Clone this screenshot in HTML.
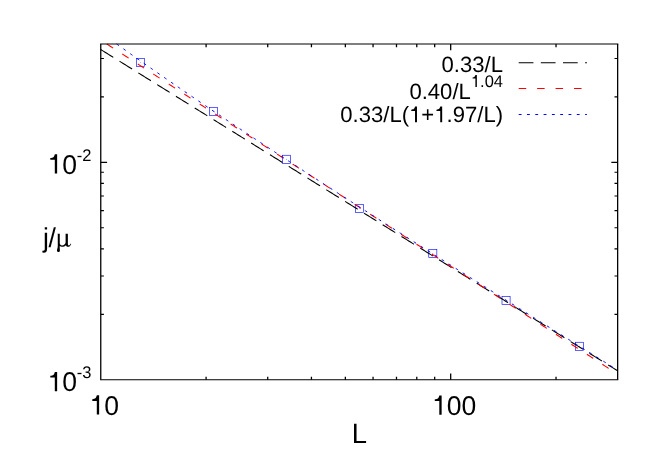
<!DOCTYPE html>
<html><head><meta charset="utf-8"><title>plot</title>
<style>
html,body{margin:0;padding:0;background:#fff;}
body{width:664px;height:465px;overflow:hidden;position:relative;font-family:"Liberation Sans",sans-serif;}
</style></head><body>
<svg width="664" height="465" viewBox="0 0 664 465" style="position:absolute;left:0;top:0;will-change:transform">
<rect x="0" y="0" width="664" height="465" fill="#fff"/>
<rect x="136.45" y="58.35" width="8.1" height="8.1" fill="none" stroke="#00f" stroke-width="0.62"/>
<circle cx="140.50" cy="62.40" r="0.45" fill="#00f" opacity="0.7"/>
<rect x="209.45" y="107.30" width="8.1" height="8.1" fill="none" stroke="#00f" stroke-width="0.62"/>
<circle cx="213.50" cy="111.35" r="0.45" fill="#00f" opacity="0.7"/>
<rect x="282.55" y="155.25" width="8.1" height="8.1" fill="none" stroke="#00f" stroke-width="0.62"/>
<circle cx="286.60" cy="159.30" r="0.45" fill="#00f" opacity="0.7"/>
<rect x="355.55" y="204.30" width="8.1" height="8.1" fill="none" stroke="#00f" stroke-width="0.62"/>
<circle cx="359.60" cy="208.35" r="0.45" fill="#00f" opacity="0.7"/>
<rect x="428.75" y="249.40" width="8.1" height="8.1" fill="none" stroke="#00f" stroke-width="0.62"/>
<circle cx="432.80" cy="253.45" r="0.45" fill="#00f" opacity="0.7"/>
<rect x="502.00" y="296.45" width="8.1" height="8.1" fill="none" stroke="#00f" stroke-width="0.62"/>
<circle cx="506.05" cy="300.50" r="0.45" fill="#00f" opacity="0.7"/>
<rect x="575.45" y="342.25" width="8.1" height="8.1" fill="none" stroke="#00f" stroke-width="0.62"/>
<circle cx="579.50" cy="346.30" r="0.45" fill="#00f" opacity="0.7"/>
<path d="M100.76,49.56 L102.05,50.36 L103.34,51.16 L104.64,51.97 L105.93,52.77 L107.22,53.57 L108.51,54.38 L109.81,55.18 L111.10,55.98 L112.39,56.79 L113.68,57.59 L114.97,58.39 L116.27,59.19 L117.56,60.00 L118.85,60.80 L120.14,61.60 L121.44,62.41 L122.73,63.21 L124.02,64.01 L125.31,64.82 L126.60,65.62 L127.90,66.42 L129.19,67.23 L130.48,68.03 L131.77,68.83 L133.07,69.63 L134.36,70.44 L135.65,71.24 L136.94,72.04 L138.23,72.85 L139.53,73.65 L140.82,74.45 L142.11,75.26 L143.40,76.06 L144.70,76.86 L145.99,77.67 L147.28,78.47 L148.57,79.27 L149.86,80.08 L151.16,80.88 L152.45,81.68 L153.74,82.48 L155.03,83.29 L156.33,84.09 L157.62,84.89 L158.91,85.70 L160.20,86.50 L161.49,87.30 L162.79,88.11 L164.08,88.91 L165.37,89.71 L166.66,90.52 L167.96,91.32 L169.25,92.12 L170.54,92.92 L171.83,93.73 L173.12,94.53 L174.42,95.33 L175.71,96.14 L177.00,96.94 L178.29,97.74 L179.59,98.55 L180.88,99.35 L182.17,100.15 L183.46,100.96 L184.75,101.76 L186.05,102.56 L187.34,103.37 L188.63,104.17 L189.92,104.97 L191.22,105.77 L192.51,106.58 L193.80,107.38 L195.09,108.18 L196.38,108.99 L197.68,109.79 L198.97,110.59 L200.26,111.40 L201.55,112.20 L202.85,113.00 L204.14,113.81 L205.43,114.61 L206.72,115.41 L208.01,116.21 L209.31,117.02 L210.60,117.82 L211.89,118.62 L213.18,119.43 L214.48,120.23 L215.77,121.03 L217.06,121.84 L218.35,122.64 L219.64,123.44 L220.94,124.25 L222.23,125.05 L223.52,125.85 L224.81,126.66 L226.11,127.46 L227.40,128.26 L228.69,129.06 L229.98,129.87 L231.27,130.67 L232.57,131.47 L233.86,132.28 L235.15,133.08 L236.44,133.88 L237.74,134.69 L239.03,135.49 L240.32,136.29 L241.61,137.10 L242.90,137.90 L244.20,138.70 L245.49,139.50 L246.78,140.31 L248.07,141.11 L249.37,141.91 L250.66,142.72 L251.95,143.52 L253.24,144.32 L254.53,145.13 L255.83,145.93 L257.12,146.73 L258.41,147.54 L259.70,148.34 L261.00,149.14 L262.29,149.95 L263.58,150.75 L264.87,151.55 L266.16,152.35 L267.46,153.16 L268.75,153.96 L270.04,154.76 L271.33,155.57 L272.63,156.37 L273.92,157.17 L275.21,157.98 L276.50,158.78 L277.79,159.58 L279.09,160.39 L280.38,161.19 L281.67,161.99 L282.96,162.79 L284.26,163.60 L285.55,164.40 L286.84,165.20 L288.13,166.01 L289.42,166.81 L290.72,167.61 L292.01,168.42 L293.30,169.22 L294.59,170.02 L295.89,170.83 L297.18,171.63 L298.47,172.43 L299.76,173.24 L301.05,174.04 L302.35,174.84 L303.64,175.64 L304.93,176.45 L306.22,177.25 L307.52,178.05 L308.81,178.86 L310.10,179.66 L311.39,180.46 L312.68,181.27 L313.98,182.07 L315.27,182.87 L316.56,183.68 L317.85,184.48 L319.15,185.28 L320.44,186.08 L321.73,186.89 L323.02,187.69 L324.31,188.49 L325.61,189.30 L326.90,190.10 L328.19,190.90 L329.48,191.71 L330.78,192.51 L332.07,193.31 L333.36,194.12 L334.65,194.92 L335.94,195.72 L337.24,196.53 L338.53,197.33 L339.82,198.13 L341.11,198.93 L342.41,199.74 L343.70,200.54 L344.99,201.34 L346.28,202.15 L347.57,202.95 L348.87,203.75 L350.16,204.56 L351.45,205.36 L352.74,206.16 L354.04,206.97 L355.33,207.77 L356.62,208.57 L357.91,209.37 L359.20,210.18 L360.50,210.98 L361.79,211.78 L363.08,212.59 L364.37,213.39 L365.67,214.19 L366.96,215.00 L368.25,215.80 L369.54,216.60 L370.84,217.41 L372.13,218.21 L373.42,219.01 L374.71,219.81 L376.00,220.62 L377.30,221.42 L378.59,222.22 L379.88,223.03 L381.17,223.83 L382.47,224.63 L383.76,225.44 L385.05,226.24 L386.34,227.04 L387.63,227.85 L388.93,228.65 L390.22,229.45 L391.51,230.26 L392.80,231.06 L394.10,231.86 L395.39,232.66 L396.68,233.47 L397.97,234.27 L399.26,235.07 L400.56,235.88 L401.85,236.68 L403.14,237.48 L404.43,238.29 L405.73,239.09 L407.02,239.89 L408.31,240.70 L409.60,241.50 L410.89,242.30 L412.19,243.10 L413.48,243.91 L414.77,244.71 L416.06,245.51 L417.36,246.32 L418.65,247.12 L419.94,247.92 L421.23,248.73 L422.52,249.53 L423.82,250.33 L425.11,251.14 L426.40,251.94 L427.69,252.74 L428.99,253.55 L430.28,254.35 L431.57,255.15 L432.86,255.95 L434.15,256.76 L435.45,257.56 L436.74,258.36 L438.03,259.17 L439.32,259.97 L440.62,260.77 L441.91,261.58 L443.20,262.38 L444.49,263.18 L445.78,263.99 L447.08,264.79 L448.37,265.59 L449.66,266.39 L450.95,267.20 L452.25,268.00 L453.54,268.80 L454.83,269.61 L456.12,270.41 L457.41,271.21 L458.71,272.02 L460.00,272.82 L461.29,273.62 L462.58,274.43 L463.88,275.23 L465.17,276.03 L466.46,276.84 L467.75,277.64 L469.04,278.44 L470.34,279.24 L471.63,280.05 L472.92,280.85 L474.21,281.65 L475.51,282.46 L476.80,283.26 L478.09,284.06 L479.38,284.87 L480.67,285.67 L481.97,286.47 L483.26,287.28 L484.55,288.08 L485.84,288.88 L487.14,289.68 L488.43,290.49 L489.72,291.29 L491.01,292.09 L492.30,292.90 L493.60,293.70 L494.89,294.50 L496.18,295.31 L497.47,296.11 L498.77,296.91 L500.06,297.72 L501.35,298.52 L502.64,299.32 L503.93,300.13 L505.23,300.93 L506.52,301.73 L507.81,302.53 L509.10,303.34 L510.40,304.14 L511.69,304.94 L512.98,305.75 L514.27,306.55 L515.56,307.35 L516.86,308.16 L518.15,308.96 L519.44,309.76 L520.73,310.57 L522.03,311.37 L523.32,312.17 L524.61,312.97 L525.90,313.78 L527.19,314.58 L528.49,315.38 L529.78,316.19 L531.07,316.99 L532.36,317.79 L533.66,318.60 L534.95,319.40 L536.24,320.20 L537.53,321.01 L538.82,321.81 L540.12,322.61 L541.41,323.42 L542.70,324.22 L543.99,325.02 L545.29,325.82 L546.58,326.63 L547.87,327.43 L549.16,328.23 L550.45,329.04 L551.75,329.84 L553.04,330.64 L554.33,331.45 L555.62,332.25 L556.92,333.05 L558.21,333.86 L559.50,334.66 L560.79,335.46 L562.08,336.26 L563.38,337.07 L564.67,337.87 L565.96,338.67 L567.25,339.48 L568.55,340.28 L569.84,341.08 L571.13,341.89 L572.42,342.69 L573.71,343.49 L575.01,344.30 L576.30,345.10 L577.59,345.90 L578.88,346.70 L580.18,347.51 L581.47,348.31 L582.76,349.11 L584.05,349.92 L585.34,350.72 L586.64,351.52 L587.93,352.33 L589.22,353.13 L590.51,353.93 L591.81,354.74 L593.10,355.54 L594.39,356.34 L595.68,357.15 L596.97,357.95 L598.27,358.75 L599.56,359.55 L600.85,360.36 L602.14,361.16 L603.44,361.96 L604.73,362.77 L606.02,363.57 L607.31,364.37 L608.60,365.18 L609.90,365.98 L611.19,366.78 L612.48,367.59 L613.77,368.39 L615.07,369.19 L616.36,369.99 L617.65,370.80" fill="none" stroke="#000" stroke-width="1.08" stroke-dasharray="14.75 7.38"/>
<path d="M106.81,44.00 L107.22,44.26 L108.51,45.10 L109.81,45.93 L111.10,46.77 L112.39,47.60 L113.68,48.44 L114.97,49.27 L116.27,50.11 L117.56,50.95 L118.85,51.78 L120.14,52.62 L121.44,53.45 L122.73,54.29 L124.02,55.12 L125.31,55.96 L126.60,56.79 L127.90,57.63 L129.19,58.46 L130.48,59.30 L131.77,60.13 L133.07,60.97 L134.36,61.80 L135.65,62.64 L136.94,63.47 L138.23,64.31 L139.53,65.14 L140.82,65.98 L142.11,66.81 L143.40,67.65 L144.70,68.48 L145.99,69.32 L147.28,70.16 L148.57,70.99 L149.86,71.83 L151.16,72.66 L152.45,73.50 L153.74,74.33 L155.03,75.17 L156.33,76.00 L157.62,76.84 L158.91,77.67 L160.20,78.51 L161.49,79.34 L162.79,80.18 L164.08,81.01 L165.37,81.85 L166.66,82.68 L167.96,83.52 L169.25,84.35 L170.54,85.19 L171.83,86.02 L173.12,86.86 L174.42,87.70 L175.71,88.53 L177.00,89.37 L178.29,90.20 L179.59,91.04 L180.88,91.87 L182.17,92.71 L183.46,93.54 L184.75,94.38 L186.05,95.21 L187.34,96.05 L188.63,96.88 L189.92,97.72 L191.22,98.55 L192.51,99.39 L193.80,100.22 L195.09,101.06 L196.38,101.89 L197.68,102.73 L198.97,103.56 L200.26,104.40 L201.55,105.23 L202.85,106.07 L204.14,106.91 L205.43,107.74 L206.72,108.58 L208.01,109.41 L209.31,110.25 L210.60,111.08 L211.89,111.92 L213.18,112.75 L214.48,113.59 L215.77,114.42 L217.06,115.26 L218.35,116.09 L219.64,116.93 L220.94,117.76 L222.23,118.60 L223.52,119.43 L224.81,120.27 L226.11,121.10 L227.40,121.94 L228.69,122.77 L229.98,123.61 L231.27,124.44 L232.57,125.28 L233.86,126.12 L235.15,126.95 L236.44,127.79 L237.74,128.62 L239.03,129.46 L240.32,130.29 L241.61,131.13 L242.90,131.96 L244.20,132.80 L245.49,133.63 L246.78,134.47 L248.07,135.30 L249.37,136.14 L250.66,136.97 L251.95,137.81 L253.24,138.64 L254.53,139.48 L255.83,140.31 L257.12,141.15 L258.41,141.98 L259.70,142.82 L261.00,143.66 L262.29,144.49 L263.58,145.33 L264.87,146.16 L266.16,147.00 L267.46,147.83 L268.75,148.67 L270.04,149.50 L271.33,150.34 L272.63,151.17 L273.92,152.01 L275.21,152.84 L276.50,153.68 L277.79,154.51 L279.09,155.35 L280.38,156.18 L281.67,157.02 L282.96,157.85 L284.26,158.69 L285.55,159.52 L286.84,160.36 L288.13,161.19 L289.42,162.03 L290.72,162.87 L292.01,163.70 L293.30,164.54 L294.59,165.37 L295.89,166.21 L297.18,167.04 L298.47,167.88 L299.76,168.71 L301.05,169.55 L302.35,170.38 L303.64,171.22 L304.93,172.05 L306.22,172.89 L307.52,173.72 L308.81,174.56 L310.10,175.39 L311.39,176.23 L312.68,177.06 L313.98,177.90 L315.27,178.73 L316.56,179.57 L317.85,180.41 L319.15,181.24 L320.44,182.08 L321.73,182.91 L323.02,183.75 L324.31,184.58 L325.61,185.42 L326.90,186.25 L328.19,187.09 L329.48,187.92 L330.78,188.76 L332.07,189.59 L333.36,190.43 L334.65,191.26 L335.94,192.10 L337.24,192.93 L338.53,193.77 L339.82,194.60 L341.11,195.44 L342.41,196.27 L343.70,197.11 L344.99,197.94 L346.28,198.78 L347.57,199.62 L348.87,200.45 L350.16,201.29 L351.45,202.12 L352.74,202.96 L354.04,203.79 L355.33,204.63 L356.62,205.46 L357.91,206.30 L359.20,207.13 L360.50,207.97 L361.79,208.80 L363.08,209.64 L364.37,210.47 L365.67,211.31 L366.96,212.14 L368.25,212.98 L369.54,213.81 L370.84,214.65 L372.13,215.48 L373.42,216.32 L374.71,217.15 L376.00,217.99 L377.30,218.83 L378.59,219.66 L379.88,220.50 L381.17,221.33 L382.47,222.17 L383.76,223.00 L385.05,223.84 L386.34,224.67 L387.63,225.51 L388.93,226.34 L390.22,227.18 L391.51,228.01 L392.80,228.85 L394.10,229.68 L395.39,230.52 L396.68,231.35 L397.97,232.19 L399.26,233.02 L400.56,233.86 L401.85,234.69 L403.14,235.53 L404.43,236.37 L405.73,237.20 L407.02,238.04 L408.31,238.87 L409.60,239.71 L410.89,240.54 L412.19,241.38 L413.48,242.21 L414.77,243.05 L416.06,243.88 L417.36,244.72 L418.65,245.55 L419.94,246.39 L421.23,247.22 L422.52,248.06 L423.82,248.89 L425.11,249.73 L426.40,250.56 L427.69,251.40 L428.99,252.23 L430.28,253.07 L431.57,253.90 L432.86,254.74 L434.15,255.58 L435.45,256.41 L436.74,257.25 L438.03,258.08 L439.32,258.92 L440.62,259.75 L441.91,260.59 L443.20,261.42 L444.49,262.26 L445.78,263.09 L447.08,263.93 L448.37,264.76 L449.66,265.60 L450.95,266.43 L452.25,267.27 L453.54,268.10 L454.83,268.94 L456.12,269.77 L457.41,270.61 L458.71,271.44 L460.00,272.28 L461.29,273.12 L462.58,273.95 L463.88,274.79 L465.17,275.62 L466.46,276.46 L467.75,277.29 L469.04,278.13 L470.34,278.96 L471.63,279.80 L472.92,280.63 L474.21,281.47 L475.51,282.30 L476.80,283.14 L478.09,283.97 L479.38,284.81 L480.67,285.64 L481.97,286.48 L483.26,287.31 L484.55,288.15 L485.84,288.98 L487.14,289.82 L488.43,290.65 L489.72,291.49 L491.01,292.33 L492.30,293.16 L493.60,294.00 L494.89,294.83 L496.18,295.67 L497.47,296.50 L498.77,297.34 L500.06,298.17 L501.35,299.01 L502.64,299.84 L503.93,300.68 L505.23,301.51 L506.52,302.35 L507.81,303.18 L509.10,304.02 L510.40,304.85 L511.69,305.69 L512.98,306.52 L514.27,307.36 L515.56,308.19 L516.86,309.03 L518.15,309.86 L519.44,310.70 L520.73,311.54 L522.03,312.37 L523.32,313.21 L524.61,314.04 L525.90,314.88 L527.19,315.71 L528.49,316.55 L529.78,317.38 L531.07,318.22 L532.36,319.05 L533.66,319.89 L534.95,320.72 L536.24,321.56 L537.53,322.39 L538.82,323.23 L540.12,324.06 L541.41,324.90 L542.70,325.73 L543.99,326.57 L545.29,327.40 L546.58,328.24 L547.87,329.08 L549.16,329.91 L550.45,330.75 L551.75,331.58 L553.04,332.42 L554.33,333.25 L555.62,334.09 L556.92,334.92 L558.21,335.76 L559.50,336.59 L560.79,337.43 L562.08,338.26 L563.38,339.10 L564.67,339.93 L565.96,340.77 L567.25,341.60 L568.55,342.44 L569.84,343.27 L571.13,344.11 L572.42,344.94 L573.71,345.78 L575.01,346.61 L576.30,347.45 L577.59,348.29 L578.88,349.12 L580.18,349.96 L581.47,350.79 L582.76,351.63 L584.05,352.46 L585.34,353.30 L586.64,354.13 L587.93,354.97 L589.22,355.80 L590.51,356.64 L591.81,357.47 L593.10,358.31 L594.39,359.14 L595.68,359.98 L596.97,360.81 L598.27,361.65 L599.56,362.48 L600.85,363.32 L602.14,364.15 L603.44,364.99 L604.73,365.83 L606.02,366.66 L607.31,367.50 L608.60,368.33 L609.90,369.17 L611.19,370.00 L612.48,370.84 L613.77,371.67 L615.07,372.51 L616.36,373.34 L617.65,374.18" fill="none" stroke="#f00" stroke-width="1.08" stroke-dasharray="7.5 10.94"/>
<path d="M116.64,44.00 L117.56,44.65 L118.85,45.58 L120.14,46.50 L121.44,47.42 L122.73,48.34 L124.02,49.26 L125.31,50.18 L126.60,51.10 L127.90,52.02 L129.19,52.93 L130.48,53.85 L131.77,54.76 L133.07,55.68 L134.36,56.59 L135.65,57.50 L136.94,58.41 L138.23,59.32 L139.53,60.23 L140.82,61.14 L142.11,62.05 L143.40,62.96 L144.70,63.86 L145.99,64.77 L147.28,65.68 L148.57,66.58 L149.86,67.48 L151.16,68.39 L152.45,69.29 L153.74,70.19 L155.03,71.09 L156.33,71.99 L157.62,72.89 L158.91,73.79 L160.20,74.69 L161.49,75.58 L162.79,76.48 L164.08,77.38 L165.37,78.27 L166.66,79.17 L167.96,80.06 L169.25,80.95 L170.54,81.85 L171.83,82.74 L173.12,83.63 L174.42,84.52 L175.71,85.41 L177.00,86.30 L178.29,87.19 L179.59,88.07 L180.88,88.96 L182.17,89.85 L183.46,90.73 L184.75,91.62 L186.05,92.50 L187.34,93.39 L188.63,94.27 L189.92,95.15 L191.22,96.03 L192.51,96.92 L193.80,97.80 L195.09,98.68 L196.38,99.56 L197.68,100.44 L198.97,101.31 L200.26,102.19 L201.55,103.07 L202.85,103.95 L204.14,104.82 L205.43,105.70 L206.72,106.57 L208.01,107.45 L209.31,108.32 L210.60,109.20 L211.89,110.07 L213.18,110.94 L214.48,111.81 L215.77,112.68 L217.06,113.55 L218.35,114.42 L219.64,115.29 L220.94,116.16 L222.23,117.03 L223.52,117.90 L224.81,118.77 L226.11,119.64 L227.40,120.50 L228.69,121.37 L229.98,122.23 L231.27,123.10 L232.57,123.96 L233.86,124.83 L235.15,125.69 L236.44,126.56 L237.74,127.42 L239.03,128.28 L240.32,129.14 L241.61,130.00 L242.90,130.86 L244.20,131.73 L245.49,132.59 L246.78,133.45 L248.07,134.30 L249.37,135.16 L250.66,136.02 L251.95,136.88 L253.24,137.74 L254.53,138.59 L255.83,139.45 L257.12,140.31 L258.41,141.16 L259.70,142.02 L261.00,142.87 L262.29,143.73 L263.58,144.58 L264.87,145.43 L266.16,146.29 L267.46,147.14 L268.75,147.99 L270.04,148.84 L271.33,149.70 L272.63,150.55 L273.92,151.40 L275.21,152.25 L276.50,153.10 L277.79,153.95 L279.09,154.80 L280.38,155.65 L281.67,156.50 L282.96,157.34 L284.26,158.19 L285.55,159.04 L286.84,159.89 L288.13,160.73 L289.42,161.58 L290.72,162.43 L292.01,163.27 L293.30,164.12 L294.59,164.96 L295.89,165.81 L297.18,166.65 L298.47,167.50 L299.76,168.34 L301.05,169.18 L302.35,170.03 L303.64,170.87 L304.93,171.71 L306.22,172.56 L307.52,173.40 L308.81,174.24 L310.10,175.08 L311.39,175.92 L312.68,176.76 L313.98,177.60 L315.27,178.44 L316.56,179.28 L317.85,180.12 L319.15,180.96 L320.44,181.80 L321.73,182.64 L323.02,183.48 L324.31,184.31 L325.61,185.15 L326.90,185.99 L328.19,186.83 L329.48,187.66 L330.78,188.50 L332.07,189.34 L333.36,190.17 L334.65,191.01 L335.94,191.84 L337.24,192.68 L338.53,193.51 L339.82,194.35 L341.11,195.18 L342.41,196.02 L343.70,196.85 L344.99,197.69 L346.28,198.52 L347.57,199.35 L348.87,200.18 L350.16,201.02 L351.45,201.85 L352.74,202.68 L354.04,203.51 L355.33,204.35 L356.62,205.18 L357.91,206.01 L359.20,206.84 L360.50,207.67 L361.79,208.50 L363.08,209.33 L364.37,210.16 L365.67,210.99 L366.96,211.82 L368.25,212.65 L369.54,213.48 L370.84,214.31 L372.13,215.14 L373.42,215.97 L374.71,216.80 L376.00,217.62 L377.30,218.45 L378.59,219.28 L379.88,220.11 L381.17,220.94 L382.47,221.76 L383.76,222.59 L385.05,223.42 L386.34,224.24 L387.63,225.07 L388.93,225.90 L390.22,226.72 L391.51,227.55 L392.80,228.37 L394.10,229.20 L395.39,230.02 L396.68,230.85 L397.97,231.67 L399.26,232.50 L400.56,233.32 L401.85,234.15 L403.14,234.97 L404.43,235.80 L405.73,236.62 L407.02,237.44 L408.31,238.27 L409.60,239.09 L410.89,239.91 L412.19,240.74 L413.48,241.56 L414.77,242.38 L416.06,243.21 L417.36,244.03 L418.65,244.85 L419.94,245.67 L421.23,246.49 L422.52,247.32 L423.82,248.14 L425.11,248.96 L426.40,249.78 L427.69,250.60 L428.99,251.42 L430.28,252.24 L431.57,253.06 L432.86,253.89 L434.15,254.71 L435.45,255.53 L436.74,256.35 L438.03,257.17 L439.32,257.99 L440.62,258.81 L441.91,259.63 L443.20,260.44 L444.49,261.26 L445.78,262.08 L447.08,262.90 L448.37,263.72 L449.66,264.54 L450.95,265.36 L452.25,266.18 L453.54,267.00 L454.83,267.81 L456.12,268.63 L457.41,269.45 L458.71,270.27 L460.00,271.09 L461.29,271.90 L462.58,272.72 L463.88,273.54 L465.17,274.36 L466.46,275.17 L467.75,275.99 L469.04,276.81 L470.34,277.62 L471.63,278.44 L472.92,279.26 L474.21,280.07 L475.51,280.89 L476.80,281.71 L478.09,282.52 L479.38,283.34 L480.67,284.15 L481.97,284.97 L483.26,285.79 L484.55,286.60 L485.84,287.42 L487.14,288.23 L488.43,289.05 L489.72,289.86 L491.01,290.68 L492.30,291.49 L493.60,292.31 L494.89,293.12 L496.18,293.94 L497.47,294.75 L498.77,295.57 L500.06,296.38 L501.35,297.20 L502.64,298.01 L503.93,298.82 L505.23,299.64 L506.52,300.45 L507.81,301.27 L509.10,302.08 L510.40,302.89 L511.69,303.71 L512.98,304.52 L514.27,305.33 L515.56,306.15 L516.86,306.96 L518.15,307.77 L519.44,308.59 L520.73,309.40 L522.03,310.21 L523.32,311.02 L524.61,311.84 L525.90,312.65 L527.19,313.46 L528.49,314.28 L529.78,315.09 L531.07,315.90 L532.36,316.71 L533.66,317.52 L534.95,318.34 L536.24,319.15 L537.53,319.96 L538.82,320.77 L540.12,321.58 L541.41,322.40 L542.70,323.21 L543.99,324.02 L545.29,324.83 L546.58,325.64 L547.87,326.45 L549.16,327.27 L550.45,328.08 L551.75,328.89 L553.04,329.70 L554.33,330.51 L555.62,331.32 L556.92,332.13 L558.21,332.94 L559.50,333.75 L560.79,334.56 L562.08,335.37 L563.38,336.19 L564.67,337.00 L565.96,337.81 L567.25,338.62 L568.55,339.43 L569.84,340.24 L571.13,341.05 L572.42,341.86 L573.71,342.67 L575.01,343.48 L576.30,344.29 L577.59,345.10 L578.88,345.91 L580.18,346.72 L581.47,347.53 L582.76,348.34 L584.05,349.15 L585.34,349.96 L586.64,350.77 L587.93,351.58 L589.22,352.38 L590.51,353.19 L591.81,354.00 L593.10,354.81 L594.39,355.62 L595.68,356.43 L596.97,357.24 L598.27,358.05 L599.56,358.86 L600.85,359.67 L602.14,360.48 L603.44,361.29 L604.73,362.09 L606.02,362.90 L607.31,363.71 L608.60,364.52 L609.90,365.33 L611.19,366.14 L612.48,366.95 L613.77,367.75 L615.07,368.56 L616.36,369.37 L617.65,370.18" fill="none" stroke="#00f" stroke-width="1.0" stroke-dasharray="2.85 5.45"/>
<path d="M206.10,379.8 v-3.15 M206.10,44.0 v3.15 M267.72,379.8 v-3.15 M267.72,44.0 v3.15 M311.44,379.8 v-3.15 M311.44,44.0 v3.15 M345.35,379.8 v-3.15 M345.35,44.0 v3.15 M373.06,379.8 v-3.15 M373.06,44.0 v3.15 M396.49,379.8 v-3.15 M396.49,44.0 v3.15 M416.78,379.8 v-3.15 M416.78,44.0 v3.15 M434.68,379.8 v-3.15 M434.68,44.0 v3.15 M450.69,379.8 v-6.3 M450.69,44.0 v6.3 M556.03,379.8 v-3.15 M556.03,44.0 v3.15" fill="none" stroke="#000" stroke-width="1.28"/>
<path d="M100.76,314.33 h3.15 M617.65,314.33 h-3.15 M100.76,276.04 h3.15 M617.65,276.04 h-3.15 M100.76,248.87 h3.15 M617.65,248.87 h-3.15 M100.76,227.79 h3.15 M617.65,227.79 h-3.15 M100.76,210.57 h3.15 M617.65,210.57 h-3.15 M100.76,196.01 h3.15 M617.65,196.01 h-3.15 M100.76,183.40 h3.15 M617.65,183.40 h-3.15 M100.76,172.27 h3.15 M617.65,172.27 h-3.15 M100.76,162.32 h6.3 M617.65,162.32 h-6.3 M100.76,96.86 h3.15 M617.65,96.86 h-3.15 M100.76,58.56 h3.15 M617.65,58.56 h-3.15" fill="none" stroke="#000" stroke-width="1.12"/>
<path d="M100.12,44.0 H618.29 M100.12,379.8 H618.29" fill="none" stroke="#000" stroke-width="1.12"/>
<path d="M100.76,44.0 V379.8 M617.65,44.0 V379.8" fill="none" stroke="#000" stroke-width="1.28"/>
<path d="M518.7,62.72 H586.9" fill="none" stroke="#000" stroke-width="1.08" stroke-dasharray="14.75 7.38"/>
<path d="M518.7,88.5 H586.9" fill="none" stroke="#f00" stroke-width="1.08" stroke-dasharray="7.5 10.94"/>
<path d="M518.7,114.5 H586.9" fill="none" stroke="#00f" stroke-width="1.0" stroke-dasharray="2.85 5.45"/>
<g font-family="'Liberation Sans', sans-serif" fill="#000" text-rendering="geometricPrecision">
<path d="M359,0 H271 V505 H101 V568 C219,583 239,599 273,709 H359 Z" transform="translate(47.62,173.50) scale(0.02650,-0.02716)"/><text transform="translate(47.62,173.50) scale(1.0,1.025)" x="14.74" y="0" font-size="26.5">0</text>
<text transform="translate(76.67,160.60) scale(1.0,1.025)" x="0.00 5.49" y="0" font-size="16.5">-2</text>
<path d="M359,0 H271 V505 H101 V568 C219,583 239,599 273,709 H359 Z" transform="translate(47.62,391.30) scale(0.02650,-0.02716)"/><text transform="translate(47.62,391.30) scale(1.0,1.025)" x="14.74" y="0" font-size="26.5">0</text>
<text transform="translate(76.67,378.40) scale(1.0,1.025)" x="0.00 5.49" y="0" font-size="16.5">-3</text>
<path d="M359,0 H271 V505 H101 V568 C219,583 239,599 273,709 H359 Z" transform="translate(89.62,414.60) scale(0.02650,-0.02716)"/><text transform="translate(89.62,414.60) scale(1.0,1.025)" x="14.74" y="0" font-size="26.5">0</text>
<path d="M359,0 H271 V505 H101 V568 C219,583 239,599 273,709 H359 Z" transform="translate(432.12,414.70) scale(0.02650,-0.02716)"/><text transform="translate(432.12,414.70) scale(1.0,1.025)" x="14.74 29.48" y="0" font-size="26.5">00</text>
<text transform="translate(351.65,442.50) scale(1.0,1.02)" x="0.00" y="0" font-size="27.4">L</text>
<text transform="translate(43.05,247.10) scale(1.0,1.025)" x="0.00" y="0" font-size="26.5">j</text>
<text transform="translate(48.40,247.10) scale(1.0,1.025)" x="0.00" y="0" font-size="26.5">/</text>
<path d="M92,95 L129,95 L129,250 C129,276 145,289 168,289 C195,289 226,266 226,240 L226,95 L264,95 L264,262 C264,285 272,293 283,290 C295,286 305,275 311,258 L319,264 C310,290 292,313 268,313 C250,313 238,304 232,286 C215,304 190,313 165,313 C150,313 138,309 129,300 C127,330 131,350 131,372 C131,389 120,397 108,397 C93,397 83,388 83,372 C83,352 96,335 96,300 L96,108 Z" transform="translate(52,228) scale(0.06015)"/>
<text transform="translate(441.49,71.50) scale(1.0,1.0)" x="0.00 12.29 18.43 30.72 43.01 49.15" y="0" font-size="22.1">0.33/L</text>
<text transform="translate(409.39,99.30) scale(1.0,1.0)" x="0.00 12.29 18.43 30.72 43.01 49.15" y="0" font-size="22.1">0.40/L</text>
<path d="M359,0 H271 V505 H101 V568 C219,583 239,599 273,709 H359 Z" transform="translate(470.93,87.00) scale(0.01650,-0.01691)"/><text transform="translate(470.93,87.00) scale(1.0,1.025)" x="9.18 13.76 22.94" y="0" font-size="16.5">.04</text>
<path d="M359,0 H271 V505 H101 V568 C219,583 239,599 273,709 H359 Z" transform="translate(409.04,122.20) scale(0.02210,-0.02210)"/><path d="M359,0 H271 V505 H101 V568 C219,583 239,599 273,709 H359 Z" transform="translate(434.24,122.20) scale(0.02210,-0.02210)"/><text transform="translate(340.24,122.20) scale(1.0,1.0)" x="0.00 12.29 18.43 30.72 43.01 49.15 61.44 81.09 106.29 112.43 124.72 137.01 143.15 155.44" y="0" font-size="22.1">0.33/L(+.97/L)</text>
</g>
</svg>
</body></html>
